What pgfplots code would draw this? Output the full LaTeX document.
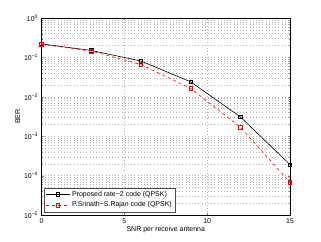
\documentclass[border=0pt]{standalone}
\usepackage{fontspec}
\setmainfont{Liberation Sans}
\usepackage{pgfplots}
\pgfplotsset{compat=1.18}
\begin{document}
\begin{tikzpicture}
\path[use as bounding box] (-41.5bp,-27bp) rectangle (279.5bp,215bp);
\begin{axis}[
  at={(0,0)}, anchor=south west,
  scale only axis, width=248.5bp, height=197bp,
  ymode=log, log basis y=10,
  xmin=0, xmax=15, ymin=1e-5, ymax=1,
  xtick={0,5,10,15},
  ytick={1e-5,1e-4,1e-3,1e-2,1e-1,1},
  minor ytick={2e-5,3e-5,4e-5,5e-5,6e-5,7e-5,8e-5,9e-5,
               2e-4,3e-4,4e-4,5e-4,6e-4,7e-4,8e-4,9e-4,
               2e-3,3e-3,4e-3,5e-3,6e-3,7e-3,8e-3,9e-3,
               2e-2,3e-2,4e-2,5e-2,6e-2,7e-2,8e-2,9e-2,
               2e-1,3e-1,4e-1,5e-1,6e-1,7e-1,8e-1,9e-1},
  yticklabels={10\textsuperscript{−5},10\textsuperscript{−4},10\textsuperscript{−3},10\textsuperscript{−2},10\textsuperscript{−1},10\textsuperscript{0}},
  /pgf/number format/assume math mode=true,
  tick label style={font=\fontsize{7}{8}\selectfont},
  label style={font=\fontsize{7}{8}\selectfont},
  xlabel={SNR per receive antenna},
  ylabel={BER},
  xlabel style={yshift=4bp},
  ylabel style={yshift=-3bp},
  tick align=inside,
  major tick length=2.5bp, minor tick length=1.5bp,
  xmajorgrids=true, ymajorgrids=true, yminorgrids=true, xminorgrids=false,
  major grid style={dash pattern=on 0.6bp off 2.6bp, gray!60, line width=0.4pt},
  minor grid style={dash pattern=on 0.6bp off 2.6bp, gray!60, line width=0.4pt},
  axis line style={line width=0.5pt},
  legend cell align=left,
  legend style={font=\fontsize{7}{8}\selectfont, draw=black!70, line width=0.4pt, inner sep=1.5pt, row sep=0pt, at={(0.01,0.015)}, anchor=south west},
  legend image code/.code={
    \draw[mark repeat=2,mark phase=2,#1] plot coordinates {(0cm,0cm) (0.42cm,0cm) (0.84cm,0cm)};
  },
]
\addplot[black, line width=0.6pt, mark=square, mark size=1.8pt, mark options={solid}] coordinates {
(0,0.22) (3,0.15) (6,0.081) (9,0.024) (12,0.0031) (15,1.9e-4)};
\addlegendentry{Proposed rate−2 code (QPSK)}
\addplot[red, dashed, line width=0.6pt, mark=square, mark size=1.8pt, mark options={solid}] coordinates {
(0,0.215) (3,0.145) (6,0.066) (9,0.0164) (12,0.0017) (15,6.7e-5)};
\addlegendentry{P.Srinath−S.Rajan code (QPSK)}
\end{axis}
\end{tikzpicture}
\end{document}
